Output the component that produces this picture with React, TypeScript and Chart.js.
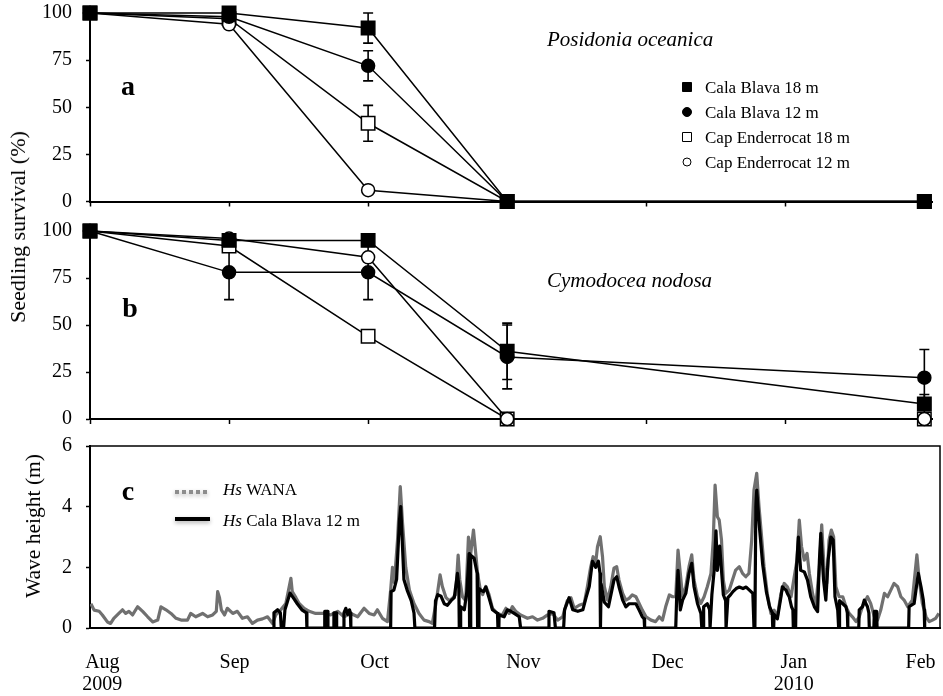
import React, { useEffect, useRef } from "react";
import { Chart, registerables } from "chart.js";

Chart.register(...registerables);

const SERIF = '"Liberation Serif", "Times New Roman", Times, serif';

// ---------- seedling survey axes ----------
const monthNames = ["Aug", "Sep", "Oct", "Nov", "Dec", "Jan", "Feb"];
// survey dates as month index from Aug 2009
const surveyMonths = [0, 1, 2, 3, 6];
const siteNames = ["Cala Blava 18 m", "Cala Blava 12 m", "Cap Enderrocat 18 m", "Cap Enderrocat 12 m"];

// ---------- a: Posidonia oceanica survival (%) and error ----------
const poCalaBlava18 = [100, 100, 92, 0, 0];
const poCalaBlava18Err = [0, 0, 8, 0, 0];
const poCalaBlava12 = [100, 98, 72, 0, 0];
const poCalaBlava12Err = [0, 0, 8, 0, 0];
const poEnderrocat18 = [100, 97, 41.5, 0, 0];
const poEnderrocat18Err = [0, 0, 9.5, 0, 0];
const poEnderrocat12 = [100, 94, 6, 0, 0];
const poEnderrocat12Err = [0, 0, 0, 0, 0];

// ---------- b: Cymodocea nodosa survival (%) and error ----------
const cnCalaBlava18 = [100, 95, 95, 36, 8];
const cnCalaBlava18Err = [0, 0, 0, 15, 5];
const cnCalaBlava12 = [100, 78, 78, 33, 22];
const cnCalaBlava12Err = [0, 14.5, 14.5, 17, 15];
const cnEnderrocat18 = [100, 92, 44, 0, 0];
const cnEnderrocat18Err = [0, 0, 0, 0, 0];
const cnEnderrocat12 = [100, 96, 86, 0, 0];
const cnEnderrocat12Err = [0, 0, 0, 0, 0];

// ---------- c: significant wave height, [days since 1 Aug 2009, Hs (m)] ----------
const waveMonthLabels = [["Aug", "2009"], ["Sep"], ["Oct"], ["Nov"], ["Dec"], ["Jan", "2010"], ["Feb"]];
const waveMonthLabelDays = [2.7, 31.6, 62.2, 94.7, 126.2, 153.8, 181.5];
const waveSeriesNames = ["WANA", "Cala Blava 12 m"];

const hsWana: [number, number][] = [
  [0.2, 0.8], [0.9, 0.59], [2.0, 0.55], [2.7, 0.43], [3.8, 0.2], [4.5, 0.15], [5.2, 0.32], [6.3, 0.48],
  [7.1, 0.6], [7.8, 0.48], [8.5, 0.55], [9.3, 0.43], [10.4, 0.7], [11.5, 0.55], [12.6, 0.37], [13.7, 0.2],
  [14.8, 0.26], [15.5, 0.7], [16.6, 0.6], [17.7, 0.48], [18.8, 0.32], [19.9, 0.26], [21.3, 0.26], [22.0, 0.48],
  [23.1, 0.37], [24.6, 0.48], [25.7, 0.37], [26.8, 0.43], [27.6, 0.55], [27.9, 1.2], [28.3, 1.0], [28.7, 0.6],
  [29.4, 0.43], [30.0, 0.65], [31.2, 0.48], [32.2, 0.55], [33.3, 0.32], [34.4, 0.37], [35.5, 0.15], [36.6, 0.26],
  [37.7, 0.3], [38.8, 0.37], [39.9, 0.15], [40.6, 0.43], [41.7, 0.6], [42.8, 0.81], [43.9, 1.64], [44.2, 1.2],
  [45.0, 1.0], [45.7, 0.81], [46.8, 0.65], [47.9, 0.55], [49.3, 0.48], [51.2, 0.48], [52.6, 0.43], [54.1, 0.55],
  [55.5, 0.37], [57.0, 0.48], [58.5, 0.37], [59.9, 0.65], [61.0, 0.48], [62.1, 0.43], [62.8, 0.6], [63.9, 0.32],
  [65.0, 0.21], [65.7, 1.25], [66.1, 2.0], [66.5, 1.5], [67.2, 2.9], [67.8, 4.66], [68.3, 3.46], [69.0, 2.0],
  [69.8, 1.25], [70.8, 0.81], [71.9, 0.48], [73.0, 0.26], [74.1, 0.21], [74.8, 0.15], [75.6, 0.81], [76.5, 1.75],
  [77.0, 1.37], [77.8, 1.0], [78.5, 0.9], [79.2, 0.98], [79.9, 1.1], [80.45, 2.4], [80.8, 1.6], [81.4, 1.03],
  [82.1, 0.9], [82.7, 3.0], [83.2, 2.45], [83.8, 3.23], [84.3, 2.45], [84.7, 1.8], [85.3, 1.25], [85.8, 1.1],
  [86.5, 1.37], [87.2, 1.1], [87.95, 0.65], [89.0, 0.48], [90.1, 0.43], [90.9, 0.65], [91.6, 0.48], [92.3, 0.7],
  [93.1, 0.54], [94.1, 0.43], [95.6, 0.32], [96.7, 0.37], [97.8, 0.26], [98.9, 0.32], [100.0, 0.43], [101.1, 0.48],
  [102.2, 0.26], [103.3, 0.37], [104.3, 0.9], [105.1, 1.0], [105.8, 0.65], [106.9, 0.75], [108.0, 0.81], [108.7, 1.37],
  [109.4, 2.0], [109.95, 2.35], [110.5, 2.13], [110.9, 2.68], [111.5, 3.01], [112.0, 2.35], [112.4, 1.36], [113.1, 0.92],
  [113.8, 1.36], [114.5, 1.97], [115.1, 2.02], [115.6, 1.58], [116.4, 1.14], [117.1, 0.92], [117.8, 0.98], [118.5, 1.09],
  [119.3, 1.03], [120.0, 0.81], [120.7, 0.59], [121.5, 0.37], [122.6, 0.26], [123.6, 0.21], [124.4, 0.37], [125.1, 0.26],
  [125.8, 0.7], [126.6, 1.09], [127.3, 1.03], [128.0, 1.03], [128.5, 2.57], [129.0, 1.8], [129.5, 1.03], [130.2, 1.36],
  [130.9, 2.02], [131.5, 2.41], [132.0, 1.58], [132.75, 1.03], [133.5, 0.81], [134.2, 1.03], [134.9, 1.36], [135.7, 1.8],
  [136.2, 2.9], [136.6, 4.71], [137.1, 3.67], [137.5, 3.56], [138.0, 2.9], [138.4, 1.58], [138.9, 1.14], [139.7, 1.25],
  [140.4, 1.58], [141.1, 1.91], [141.9, 2.02], [142.6, 1.8], [143.3, 1.69], [144.0, 1.8], [144.6, 2.9], [145.1, 4.55],
  [145.7, 5.1], [146.2, 4.0], [146.7, 3.12], [147.3, 2.02], [148.0, 1.14], [148.8, 0.48], [149.5, 0.59], [150.2, 0.37],
  [151.0, 1.14], [151.7, 1.47], [152.4, 1.36], [153.2, 1.03], [153.9, 1.69], [154.5, 2.24], [155.0, 3.56], [155.5, 2.68],
  [156.1, 2.24], [156.7, 2.46], [157.2, 1.8], [157.9, 1.14], [158.6, 0.7], [159.4, 2.02], [159.9, 3.4], [160.4, 2.02],
  [161.0, 1.47], [161.5, 2.9], [162.0, 3.23], [162.5, 3.01], [163.0, 1.36], [163.7, 1.03], [164.5, 1.03], [165.2, 0.7],
  [165.9, 0.48], [166.6, 0.37], [167.4, 0.21], [168.1, 0.37], [168.8, 0.7], [169.9, 1.03], [170.6, 0.81], [171.4, 0.37],
  [172.1, 0.26], [172.8, 0.59], [173.6, 1.14], [174.3, 1.03], [175.0, 1.25], [175.7, 1.47], [176.5, 1.36], [177.2, 1.03],
  [177.9, 0.92], [178.7, 0.7], [179.7, 0.92], [180.7, 2.41], [181.2, 1.58], [181.9, 0.81], [182.7, 0.37], [183.4, 0.21],
  [184.1, 0.26], [184.8, 0.32], [185.5, 0.48],
];

const hsCalaBlava12: [number, number][] = [
  [40.0, 0], [40.2, 0.5], [41.0, 0.6], [41.6, 0.5], [41.8, 0], [42.3, 0], [42.6, 0.6], [43.0, 0.8],
  [43.7, 1.15], [44.4, 1.0], [45.3, 0.8], [46.3, 0.6], [47.3, 0.5], [47.4, 0], [51.2, 0], [51.3, 0.55],
  [51.9, 0.55], [52.0, 0], [53.2, 0], [53.3, 0.5], [53.8, 0.5], [53.9, 0], [55.4, 0], [55.5, 0.5],
  [55.9, 0.65], [56.3, 0.45], [56.7, 0.6], [56.9, 0.5], [57.0, 0], [65.7, 0], [65.8, 1.2], [66.4, 1.25],
  [67.0, 1.6], [67.6, 3.5], [67.9, 4.0], [68.2, 3.0], [68.6, 1.6], [69.3, 1.25], [70.2, 0.9], [70.8, 0.5],
  [71.0, 0], [75.3, 0], [75.5, 0.9], [76.0, 1.1], [76.7, 1.05], [77.4, 0.8], [78.1, 0.75], [78.9, 0.9],
  [79.6, 1.0], [80.3, 1.8], [80.6, 1.4], [80.7, 0], [80.9, 0], [81.0, 0.7], [81.8, 0.6], [82.35, 1.2],
  [82.85, 2.45], [82.95, 0], [83.1, 0], [83.2, 2.4], [83.95, 2.3], [84.6, 1.8], [84.7, 0], [84.9, 0],
  [85.0, 1.3], [85.4, 1.25], [86.0, 1.2], [86.5, 1.35], [87.2, 1.0], [87.95, 0.6], [89.05, 0.48], [89.15, 0],
  [89.35, 0], [89.4, 0.43], [90.5, 0.37], [91.2, 0.6], [92.0, 0.55], [92.7, 0.48], [93.8, 0.37], [94.1, 0],
  [100.2, 0], [100.3, 0.55], [101.4, 0.5], [101.7, 0], [103.5, 0], [103.7, 0.6], [104.7, 1.0], [105.5, 0.6],
  [106.6, 0.55], [107.7, 0.6], [108.4, 1.0], [109.1, 1.37], [109.8, 2.2], [110.5, 2.0], [111.1, 2.2], [111.45, 1.8],
  [111.5, 0], [111.6, 0], [111.7, 1.45], [112.4, 0.85], [113.3, 0.7], [114.5, 1.58], [115.1, 1.69], [115.6, 1.36],
  [116.4, 0.92], [117.1, 0.7], [117.8, 0.8], [119.3, 0.8], [120.0, 0.59], [120.7, 0.37], [121.1, 0.3], [121.2, 0],
  [128.0, 0], [128.2, 1.0], [128.5, 1.9], [128.8, 1.2], [129.0, 0.6], [129.5, 0.92], [130.2, 1.14], [130.9, 1.8],
  [131.5, 2.13], [132.0, 1.36], [132.75, 0.81], [133.5, 0.48], [133.7, 0], [134.0, 0], [134.1, 0.7], [134.9, 0.8],
  [135.4, 0.6], [135.5, 0], [135.7, 0], [135.9, 1.1], [136.4, 1.9], [136.8, 3.2], [137.1, 1.9], [137.6, 2.7],
  [138.0, 1.9], [138.4, 1.1], [138.9, 0.9], [139.0, 0], [139.2, 0], [139.4, 1.0], [140.0, 1.1], [140.5, 1.2],
  [141.2, 1.3], [141.9, 1.35], [142.7, 1.3], [143.4, 1.35], [144.1, 1.25], [144.85, 1.14], [145.1, 0], [145.3, 0],
  [145.5, 4.0], [145.7, 4.55], [146.3, 3.3], [147.0, 2.1], [147.8, 1.2], [148.5, 0.7], [149.1, 0.5], [149.2, 0],
  [149.4, 0], [149.5, 0.45], [150.2, 0.3], [151.0, 1.03], [151.3, 1.36], [152.1, 1.25], [152.4, 1.14], [152.8, 1.03],
  [153.3, 0.7], [153.6, 0.6], [153.7, 0], [154.2, 0], [154.4, 2.0], [154.8, 3.0], [155.3, 1.9], [156.1, 1.85],
  [156.8, 1.58], [157.5, 1.03], [158.3, 0.7], [159.0, 0.54], [159.4, 2.24], [159.7, 3.12], [160.3, 1.58], [160.8, 0.92],
  [161.3, 2.24], [161.9, 3.0], [162.4, 2.9], [162.8, 1.03], [163.4, 0.59], [163.6, 0], [163.7, 0], [163.8, 0.9],
  [164.5, 0.8], [165.2, 0.7], [165.5, 0.5], [165.6, 0], [168.0, 0], [168.1, 0.6], [168.8, 0.7], [169.2, 0.92],
  [169.9, 0.7], [170.2, 0.5], [170.3, 0], [171.3, 0], [171.4, 0.55], [171.9, 0.55], [172.0, 0], [178.9, 0],
  [179.0, 0.7], [180.1, 0.81], [181.0, 1.8], [181.6, 1.36], [182.1, 0.92], [182.3, 0.6], [182.4, 0],
];

// ---------- styling ----------
type Marker = { style: "rect" | "circle"; fill: string; radius: number };
const siteMarkers: Marker[] = [
  { style: "rect", fill: "#000", radius: 9.5 },
  { style: "circle", fill: "#000", radius: 6.5 },
  { style: "rect", fill: "#fff", radius: 9.5 },
  { style: "circle", fill: "#fff", radius: 6.5 },
];
// filled squares on top, open squares at the bottom
const siteDrawOrder = [0, 1, 3, 2];

type Note = { text: string; x: number; y: number; font: string; align?: CanvasTextAlign };

const fixWidth = (w: number) => (scale: any) => {
  scale.width = w;
  scale.paddingTop = 0;
  scale.paddingBottom = 0;
};
const fixHeight = (h: number) => (scale: any) => {
  scale.height = h;
  scale.paddingLeft = 0;
  scale.paddingRight = 0;
};

const notesPlugin = (id: string, notes: Note[]) => ({
  id,
  afterDraw(chart: any) {
    const { ctx } = chart;
    ctx.save();
    ctx.fillStyle = "#000";
    ctx.textBaseline = "alphabetic";
    for (const n of notes) {
      ctx.font = n.font;
      ctx.textAlign = n.align ?? "left";
      ctx.fillText(n.text, n.x, n.y);
    }
    ctx.restore();
  },
});

const errorBarPlugin = (errors: number[][]) => ({
  id: "errorBars",
  beforeDatasetsDraw(chart: any) {
    const { ctx } = chart;
    const x = chart.scales.x;
    const y = chart.scales.y;
    ctx.save();
    ctx.strokeStyle = "#000";
    ctx.lineWidth = 1.6;
    chart.data.datasets.forEach((ds: any, i: number) => {
      ds.data.forEach((p: any, j: number) => {
        const e = errors[i][j];
        if (!e) return;
        const px = x.getPixelForValue(p.x);
        const top = y.getPixelForValue(p.y + e);
        const bot = y.getPixelForValue(p.y - e);
        ctx.beginPath();
        ctx.moveTo(px, top);
        ctx.lineTo(px, bot);
        ctx.moveTo(px - 5, top);
        ctx.lineTo(px + 5, top);
        ctx.moveTo(px - 5, bot);
        ctx.lineTo(px + 5, bot);
        ctx.stroke();
      });
    });
    ctx.restore();
  },
});

const siteLegendPlugin = {
  id: "siteLegend",
  afterDraw(chart: any) {
    const { ctx } = chart;
    const rows = [87, 112, 137, 162];
    const mx = 687;
    ctx.save();
    chart.data.datasets.forEach((ds: any, i: number) => {
      const y = rows[i];
      const m = siteMarkers[i];
      ctx.fillStyle = m.fill;
      ctx.strokeStyle = "#000";
      ctx.lineWidth = 1;
      ctx.beginPath();
      if (m.style === "rect") ctx.rect(mx - 4.5, y - 4.5, 9, 9);
      else ctx.arc(mx, y, m.fill === "#000" ? 4.5 : 4, 0, Math.PI * 2);
      ctx.fill();
      ctx.stroke();
      ctx.fillStyle = "#000";
      ctx.font = `17px ${SERIF}`;
      ctx.textAlign = "left";
      ctx.textBaseline = "alphabetic";
      ctx.fillText(ds.label, 705, y + 6);
    });
    ctx.restore();
  },
};

function survivalConfig(
  series: number[][],
  errors: number[][],
  padTop: number,
  xAxisHeight: number,
  notes: Note[],
  withLegend: boolean
) {
  return {
    type: "line",
    data: {
      datasets: series.map((vals, i) => ({
        label: siteNames[i],
        data: surveyMonths.map((m, j) => ({ x: m, y: vals[j] })),
        borderColor: "#000",
        borderWidth: 1.5,
        pointStyle: siteMarkers[i].style,
        pointRadius: siteMarkers[i].radius,
        pointBackgroundColor: siteMarkers[i].fill,
        pointBorderColor: "#000",
        pointBorderWidth: 1.5,
        order: siteDrawOrder[i],
        clip: false,
        tension: 0,
      })),
    },
    options: {
      responsive: false,
      animation: false,
      events: [],
      layout: { padding: { top: padTop, right: 3, bottom: 0, left: 0 } },
      plugins: { legend: { display: false }, tooltip: { enabled: false } },
      scales: {
        x: {
          type: "linear",
          min: 0,
          max: 6.055,
          afterBuildTicks: (s: any) => {
            s.ticks = monthNames.map((_, i) => ({ value: i }));
          },
          ticks: { display: false },
          grid: { drawOnChartArea: false, drawTicks: true, tickLength: 5, tickColor: "#000", tickWidth: 1.5 },
          border: { display: true, color: "#000", width: 2 },
          afterFit: fixHeight(xAxisHeight),
        },
        y: {
          min: 0,
          max: 100,
          ticks: { stepSize: 25, color: "#000", font: { family: SERIF, size: 20 }, padding: 14 },
          grid: { drawOnChartArea: false, tickLength: 4, tickColor: "#000", tickWidth: 1.5 },
          border: { display: true, color: "#000", width: 2 },
          afterFit: fixWidth(90),
        },
      },
    },
    plugins: [errorBarPlugin(errors), notesPlugin("panelNotes", notes), ...(withLegend ? [siteLegendPlugin] : [])],
  };
}

const frameBoxPlugin = {
  id: "frameBox",
  afterDraw(chart: any) {
    const { ctx, chartArea: a } = chart;
    ctx.save();
    ctx.strokeStyle = "#000";
    ctx.lineWidth = 1.5;
    ctx.beginPath();
    ctx.moveTo(a.left, a.top);
    ctx.lineTo(a.right, a.top);
    ctx.lineTo(a.right, a.bottom);
    ctx.stroke();
    ctx.restore();
  },
};

const waveLegendPlugin = {
  id: "waveLegend",
  afterDraw(chart: any) {
    const { ctx } = chart;
    const rows = [
      { lineY: 62, textY: 65, color: "#8c8c8c", dash: [4, 3] },
      { lineY: 89, textY: 96, color: "#000", dash: [] as number[] },
    ];
    ctx.save();
    rows.forEach((r, i) => {
      ctx.save();
      ctx.strokeStyle = r.color;
      ctx.lineWidth = 4;
      ctx.setLineDash(r.dash);
      ctx.shadowColor = "rgba(0,0,0,0.3)";
      ctx.shadowBlur = 4;
      ctx.shadowOffsetY = 2;
      ctx.beginPath();
      ctx.moveTo(175, r.lineY);
      ctx.lineTo(210, r.lineY);
      ctx.stroke();
      ctx.restore();
      ctx.fillStyle = "#000";
      ctx.textAlign = "left";
      ctx.textBaseline = "alphabetic";
      ctx.font = `italic 17px ${SERIF}`;
      ctx.fillText("Hs", 223, r.textY);
      const w = ctx.measureText("Hs ").width;
      ctx.font = `17px ${SERIF}`;
      ctx.fillText(waveSeriesNames[i], 223 + w, r.textY);
    });
    ctx.restore();
  },
};

function waveConfig() {
  return {
    type: "line",
    data: {
      datasets: [
        {
          label: waveSeriesNames[1],
          data: hsCalaBlava12.map(([d, h]) => ({ x: d, y: h })),
          borderColor: "#000",
          borderWidth: 3.2,
          borderJoinStyle: "round",
          pointRadius: 0,
          tension: 0,
        },
        {
          label: waveSeriesNames[0],
          data: hsWana.map(([d, h]) => ({ x: d, y: h })),
          borderColor: "#707070",
          borderWidth: 3.2,
          borderJoinStyle: "round",
          pointRadius: 0,
          tension: 0,
        },
      ],
    },
    options: {
      responsive: false,
      animation: false,
      events: [],
      layout: { padding: { top: 16, right: 3, bottom: 0, left: 0 } },
      plugins: { legend: { display: false }, tooltip: { enabled: false } },
      scales: {
        x: {
          type: "linear",
          min: 0,
          max: 185.75,
          afterBuildTicks: (s: any) => {
            s.ticks = waveMonthLabelDays.map((v) => ({ value: v }));
          },
          ticks: {
            color: "#000",
            font: { family: SERIF, size: 20, lineHeight: 1.1 },
            padding: 24,
            maxRotation: 0,
            autoSkip: false,
            callback: (_v: any, i: number) => waveMonthLabels[i],
          },
          grid: { display: false, drawTicks: false },
          border: { display: true, color: "#000", width: 2 },
          afterFit: fixHeight(68),
        },
        y: {
          min: 0,
          max: 6,
          ticks: { stepSize: 2, color: "#000", font: { family: SERIF, size: 20 }, padding: 14 },
          grid: { drawOnChartArea: false, tickLength: 4, tickColor: "#000", tickWidth: 1.5 },
          border: { display: true, color: "#000", width: 2 },
          afterFit: fixWidth(90),
        },
      },
    },
    plugins: [
      frameBoxPlugin,
      waveLegendPlugin,
      notesPlugin("panelLetter", [{ text: "c", x: 128, y: 70, font: `bold 28px ${SERIF}`, align: "center" }]),
    ],
  };
}

function ChartCanvas({ top, height, build }: { top: number; height: number; build: () => any }) {
  const ref = useRef<HTMLCanvasElement>(null);
  useEffect(() => {
    const chart = new Chart(ref.current as HTMLCanvasElement, build());
    return () => chart.destroy();
  }, []);
  return (
    <canvas
      ref={ref}
      width={943}
      height={height}
      style={{ position: "absolute", left: 0, top, width: 943, height }}
    />
  );
}

const verticalTitle = (cx: number, cy: number, size: number): React.CSSProperties => ({
  position: "absolute",
  left: cx,
  top: cy,
  transform: "translate(-50%, -50%) rotate(-90deg)",
  font: `${size}px ${SERIF}`,
  lineHeight: "24px",
  whiteSpace: "nowrap",
  color: "#000",
});

export default function App() {
  const buildA = () =>
    survivalConfig(
      [poCalaBlava18, poCalaBlava12, poEnderrocat18, poEnderrocat12],
      [poCalaBlava18Err, poCalaBlava12Err, poEnderrocat18Err, poEnderrocat12Err],
      13,
      14.5,
      [
        { text: "a", x: 128, y: 95, font: `bold 28px ${SERIF}`, align: "center" },
        { text: "Posidonia oceanica", x: 547, y: 46, font: `italic 21px ${SERIF}` },
      ],
      true
    );
  const buildB = () =>
    survivalConfig(
      [cnCalaBlava18, cnCalaBlava12, cnEnderrocat18, cnEnderrocat12],
      [cnCalaBlava18Err, cnCalaBlava12Err, cnEnderrocat18Err, cnEnderrocat12Err],
      15,
      7.7,
      [
        { text: "b", x: 130, y: 101, font: `bold 28px ${SERIF}`, align: "center" },
        { text: "Cymodocea nodosa", x: 547, y: 71, font: `italic 21px ${SERIF}` },
      ],
      false
    );

  return (
    <div style={{ position: "absolute", left: 0, top: 0, width: 943, height: 696, background: "#fff", overflow: "hidden" }}>
      <ChartCanvas top={0} height={216} build={buildA} />
      <ChartCanvas top={216} height={214} build={buildB} />
      <ChartCanvas top={430} height={266} build={waveConfig} />
      <div style={verticalTitle(18, 227, 22)}>Seedling survival (%)</div>
      <div style={verticalTitle(33, 526, 21.5)}>Wave height (m)</div>
    </div>
  );
}
